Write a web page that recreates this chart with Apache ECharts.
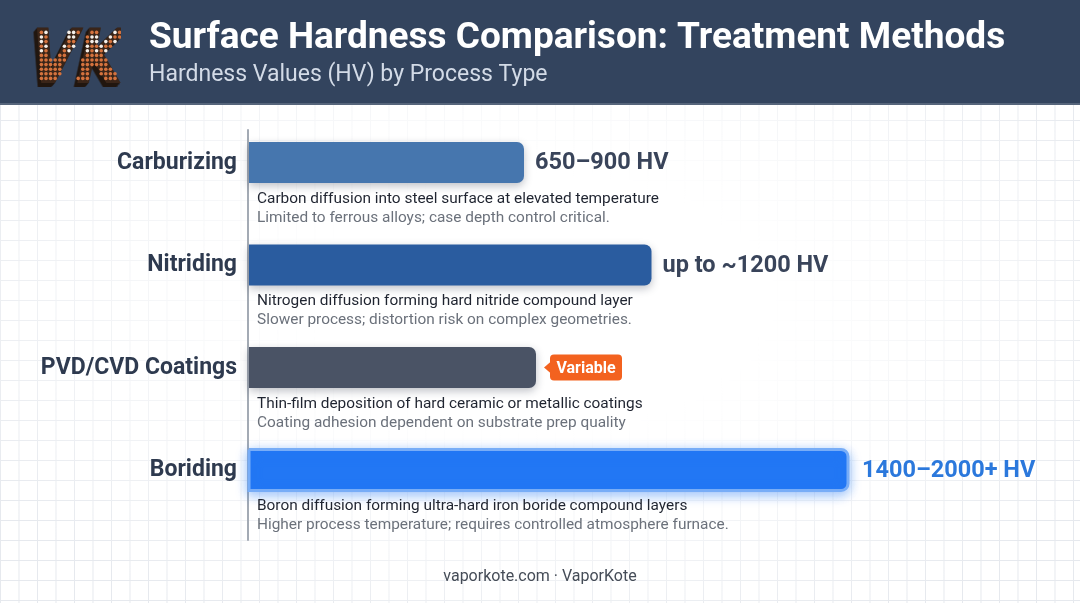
<!DOCTYPE html>
<html>
<head>
<meta charset="utf-8">
<script src="https://cdn.jsdelivr.net/npm/echarts@6/dist/echarts.min.js"></script>
<style>
  html, body { margin:0; padding:0; width:1080px; height:603px; overflow:hidden; background:#ffffff; }
  #gridbg {
    position:absolute; left:0; top:0; width:1080px; height:603px;
    background-image:
      linear-gradient(to right, #e6e9ee 1px, transparent 1px),
      linear-gradient(to bottom, #e6e9ee 1px, transparent 1px);
    background-size: 18.5px 20px;
    -webkit-mask-image: radial-gradient(ellipse 60% 60% at 50% 50%, rgba(0,0,0,0) 35%, rgba(0,0,0,1) 100%);
    mask-image: radial-gradient(ellipse 60% 60% at 50% 50%, rgba(0,0,0,0) 35%, rgba(0,0,0,1) 100%);
  }
  #chart { position:absolute; left:0; top:0; width:1080px; height:603px; }
</style>
</head>
<body>
<div id="gridbg"></div>
<div id="chart"></div>
<script>
// ---- data ----
const categories = ['Carburizing', 'Nitriding', 'PVD/CVD Coatings', 'Boriding'];
const values = [920, 1345, 960, 2000];          // relative bar lengths (HV scale)
const valueLabels = ['650–900 HV', 'up to ~1200 HV', 'Variable', '1400–2000+ HV'];
const descriptions = [
  'Carbon diffusion into steel surface at elevated temperature',
  'Nitrogen diffusion forming hard nitride compound layer',
  'Thin-film deposition of hard ceramic or metallic coatings',
  'Boron diffusion forming ultra-hard iron boride compound layers'
];
const notes = [
  'Limited to ferrous alloys; case depth control critical.',
  'Slower process; distortion risk on complex geometries.',
  'Coating adhesion dependent on substrate prep quality',
  'Higher process temperature; requires controlled atmosphere furnace.'
];

// ---- styles ----
const barColors = ['#4676ae', '#2a5c9f', '#4a5365', '#2277f4'];
const labelKinds = ['plain', 'plain', 'badge', 'accent'];
const FONT = 'Roboto, "Noto Sans", sans-serif';

// ---- logo (dotted VK) drawn to an offscreen canvas ----
function makeLogo() {
  const W = 100, H = 78;
  const c = document.createElement('canvas'); c.width = W; c.height = H;
  const ctx = c.getContext('2d');
  const font = '900 76px "DejaVu Sans", sans-serif';
  const m = document.createElement('canvas'); m.width = W; m.height = H;
  const mc = m.getContext('2d');
  mc.save(); mc.setTransform(0.8, 0, -0.22, 1, 16, 0); mc.font = font; mc.textBaseline = 'alphabetic';
  mc.fillStyle = '#000'; mc.fillText('VK', 4, 71); mc.restore();
  for (let k = 5; k >= 1; k--) ctx.drawImage(m, -k * 0.7, k * 0.8);
  ctx.globalCompositeOperation = 'source-in';
  ctx.fillStyle = '#21160f'; ctx.fillRect(0, 0, W, H);
  ctx.globalCompositeOperation = 'source-over';
  const data = mc.getImageData(0, 0, W, H).data;
  const step = 4.6;
  const base = document.createElement('canvas'); base.width = W; base.height = H;
  const bc = base.getContext('2d');
  bc.drawImage(m, 0, 0);
  bc.globalCompositeOperation = 'source-in';
  bc.fillStyle = '#3a2519'; bc.fillRect(0, 0, W, H);
  ctx.drawImage(base, 0, 0);
  let row = 0;
  for (let y = 2; y < H; y += step, row++) {
    let col = 0;
    for (let x = 2; x < W; x += step, col++) {
      const a = data[(Math.floor(y) * W + Math.floor(x)) * 4 + 3];
      if (a > 128) {
        const white = y < 42 && ((col + row) % 3 === 0 || (col - row + 30) % 4 === 0);
        ctx.fillStyle = white ? '#f4efe9' : '#d5733e';
        ctx.beginPath(); ctx.arc(x, y, 1.8, 0, Math.PI * 2); ctx.fill();
      }
    }
  }
  return c;
}
const logoCanvas = makeLogo();

const chart = echarts.init(document.getElementById('chart'), null, { renderer: 'canvas' });

const seriesData = values.map((v, i) => [v, i]);

function renderItem(params, api) {
  const i = api.value(1);
  const end = api.coord([api.value(0), i]);
  const start = api.coord([0, i]);
  const band = api.size([0, 1])[1];
  const top = end[1] - band / 2 + 12;
  const h = 41;
  const cy = top + h / 2;
  const kind = labelKinds[i];
  const children = [];
  const rectStyle = {
    fill: barColors[i],
    shadowBlur: 8, shadowColor: 'rgba(20,30,50,0.28)', shadowOffsetY: 3
  };
  if (kind === 'accent') {
    rectStyle.stroke = '#78adf7';
    rectStyle.lineWidth = 3;
    rectStyle.shadowBlur = 12;
    rectStyle.shadowColor = 'rgba(34,119,244,0.45)';
  }
  children.push({
    type: 'rect',
    shape: { x: start[0] + 1, y: top, width: end[0] - start[0] - 1, height: h, r: [0, 7, 7, 0] },
    style: rectStyle
  });
  const lx = end[0] + (kind === 'accent' ? 14 : 11);
  if (kind === 'badge') {
    const bx = end[0] + 8;
    children.push({
      type: 'polygon',
      shape: { points: [[bx, cy], [bx + 7, cy - 6], [bx + 7, cy + 6]] },
      style: { fill: '#f3621f' }
    });
    children.push({
      type: 'rect',
      shape: { x: bx + 6, y: cy - 13, width: 72, height: 26, r: 4 },
      style: { fill: '#f3621f' }
    });
    children.push({
      type: 'text',
      style: { text: valueLabels[i], x: bx + 42, y: cy + 1, fill: '#ffffff',
        fontFamily: FONT, fontSize: 16, fontWeight: 'bold', align: 'center', verticalAlign: 'middle' }
    });
  } else {
    children.push({
      type: 'text',
      style: { text: valueLabels[i], x: lx, y: cy + 1,
        fill: kind === 'accent' ? '#2b78dc' : '#39445a',
        fontFamily: FONT, fontSize: 23.5, fontWeight: 'bold', align: 'left', verticalAlign: 'middle' }
    });
  }
  children.push({
    type: 'text',
    style: { text: descriptions[i], x: start[0] + 9, y: top + 57, fill: '#1f2430',
      fontFamily: FONT, fontSize: 15.4, align: 'left', verticalAlign: 'middle' }
  });
  children.push({
    type: 'text',
    style: { text: notes[i], x: start[0] + 9, y: top + 76, fill: '#6b717b',
      fontFamily: FONT, fontSize: 15.4, align: 'left', verticalAlign: 'middle' }
  });
  return { type: 'group', children };
}

const option = {
  backgroundColor: 'transparent',
  animation: false,
  title: {
    text: 'Surface Hardness Comparison: Treatment Methods',
    subtext: 'Hardness Values (HV) by Process Type',
    left: 144, top: 15, itemGap: 7,
    textStyle: { color: '#ffffff', fontFamily: FONT, fontSize: 37, fontWeight: 'bold' },
    subtextStyle: { color: '#d3dbe7', fontFamily: FONT, fontSize: 23 }
  },
  graphic: [
    { type: 'rect', z: -10, shape: { x: 0, y: 0, width: 1080, height: 105 }, style: { fill: '#33445e' } },
    { type: 'rect', z: -9, shape: { x: 0, y: 103, width: 1080, height: 2 }, style: { fill: '#56657b' } },
    { type: 'image', z: 5, style: { image: logoCanvas, x: 21, y: 12, width: 100, height: 78 } },
    { type: 'text', style: { text: 'vaporkote.com · VaporKote', x: 540, y: 577, fill: '#454c57',
        fontFamily: FONT, fontSize: 16, align: 'center', verticalAlign: 'middle' } }
  ],
  grid: { left: 248, right: 52, top: 130, bottom: 63 },
  xAxis: { type: 'value', min: 0, max: 2600, show: false },
  yAxis: {
    type: 'category', inverse: true, data: categories,
    axisLine: { show: true, lineStyle: { color: '#a3aab4', width: 2 } },
    axisTick: { show: false },
    splitLine: { show: false },
    axisLabel: {
      margin: 11, color: '#2e3a4f', fontFamily: FONT, fontSize: 23, fontWeight: 'bold',
      lineHeight: 37, verticalAlign: 'middle',
      formatter: v => v + '\n '
    }
  },
  series: [{
    type: 'custom',
    renderItem: renderItem,
    encode: { x: 0, y: 1 },
    data: seriesData,
    clip: false
  }]
};
chart.setOption(option);
</script>
</body>
</html>
